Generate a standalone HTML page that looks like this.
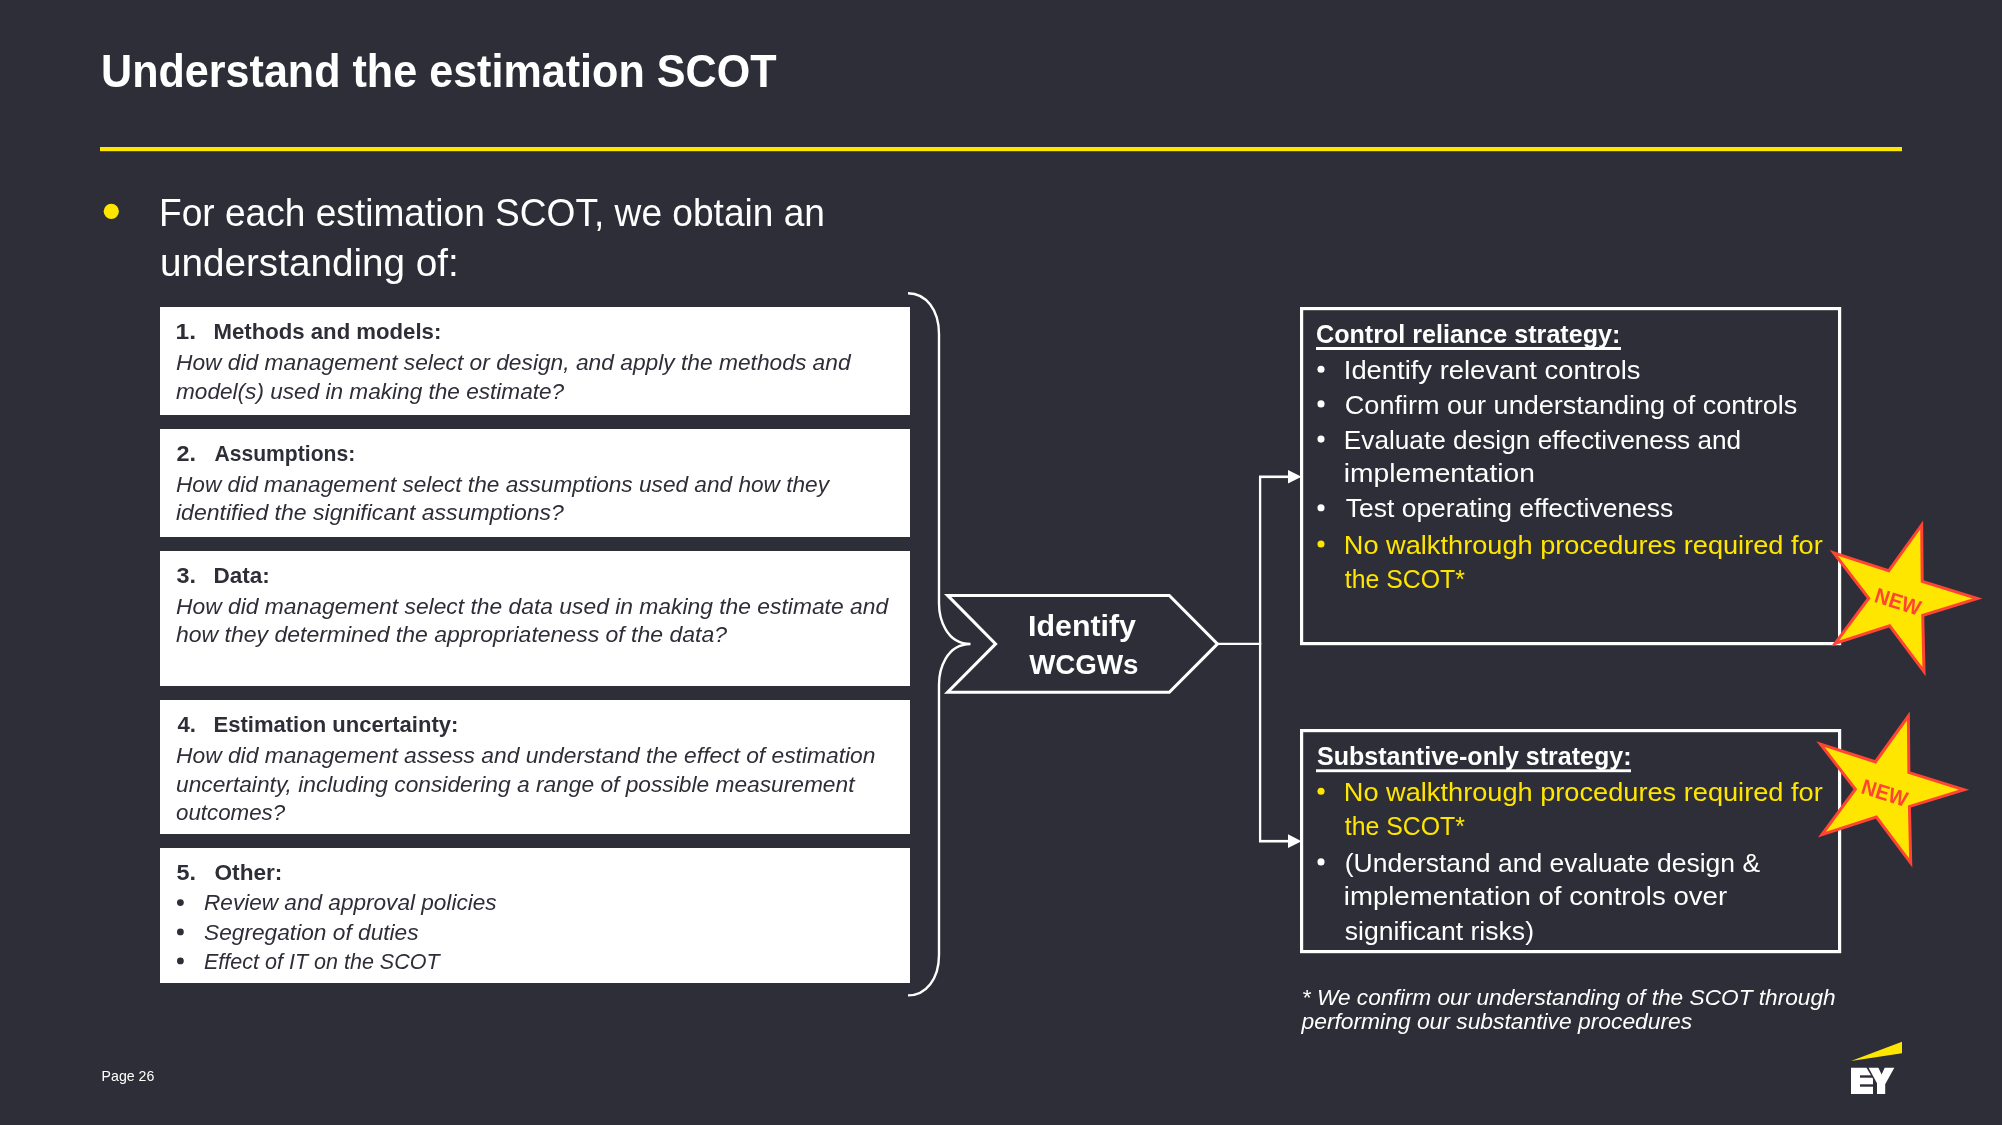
<!DOCTYPE html>
<html><head><meta charset="utf-8"><title>Understand the estimation SCOT</title>
<style>
html,body{margin:0;padding:0;background:#2E2E38;width:2002px;height:1125px;overflow:hidden}
svg{display:block;position:absolute;left:0;top:0;will-change:transform}
text{font-family:"Liberation Sans",sans-serif;white-space:pre}
</style></head><body>
<svg width="2002" height="1125" viewBox="0 0 2002 1125">
<rect x="0" y="0" width="2002" height="1125" fill="#2E2E38"/>
<rect x="100" y="147" width="1802" height="4.2" fill="#FFE600"/>
<circle cx="111.3" cy="211.3" r="7.6" fill="#FFE600"/>
<rect x="160" y="307" width="750" height="108" fill="#FFFFFF"/>
<rect x="160" y="429" width="750" height="108" fill="#FFFFFF"/>
<rect x="160" y="551" width="750" height="135" fill="#FFFFFF"/>
<rect x="160" y="700" width="750" height="134" fill="#FFFFFF"/>
<rect x="160" y="848" width="750" height="135" fill="#FFFFFF"/>
<circle cx="180.4" cy="902.60" r="3.4" fill="#2E2E38"/>
<circle cx="180.4" cy="931.90" r="3.4" fill="#2E2E38"/>
<circle cx="180.4" cy="960.90" r="3.4" fill="#2E2E38"/>
<path d="M908,293.2 C926,293.2 939,310 939,334 L939,603.5 C939,617.7 945.8,644 970.5,644 C945.8,644 939,670.3 939,684.5 L939,955 C939,979 926,995.4 908,995.4" fill="none" stroke="#FFFFFF" stroke-width="2.4"/>
<polygon points="947.6,595.4 1169.3,595.4 1217.5,643.9 1169.3,692.3 947.6,692.3 995.6,643.9" fill="none" stroke="#FFFFFF" stroke-width="3" stroke-linejoin="miter"/>
<line x1="1217" y1="643.9" x2="1261.2" y2="643.9" stroke="#FFFFFF" stroke-width="2.4"/>
<line x1="1260.1" y1="476.8" x2="1260.1" y2="841.2" stroke="#FFFFFF" stroke-width="2.3"/>
<line x1="1259" y1="476.8" x2="1290" y2="476.8" stroke="#FFFFFF" stroke-width="2.6"/>
<line x1="1259" y1="841.2" x2="1290" y2="841.2" stroke="#FFFFFF" stroke-width="2.6"/>
<polygon points="1288,470 1301.5,476.8 1288,483.4" fill="#FFFFFF"/>
<polygon points="1288,834.2 1301.5,841.2 1288,848" fill="#FFFFFF"/>
<rect x="1301.6" y="308.6" width="538" height="335" fill="none" stroke="#FFFFFF" stroke-width="3.2"/>
<rect x="1301.6" y="730.6" width="538" height="221" fill="none" stroke="#FFFFFF" stroke-width="3.2"/>
<rect x="1316" y="347" width="305" height="3" fill="#FFFFFF"/>
<rect x="1316" y="769.3" width="315" height="2.9" fill="#FFFFFF"/>
<circle cx="1321" cy="369.20" r="3.55" fill="#FFFFFF"/>
<circle cx="1321" cy="403.90" r="3.55" fill="#FFFFFF"/>
<circle cx="1321" cy="439.10" r="3.55" fill="#FFFFFF"/>
<circle cx="1321" cy="507.80" r="3.55" fill="#FFFFFF"/>
<circle cx="1321" cy="544.00" r="3.55" fill="#FFE600"/>
<circle cx="1321" cy="791.30" r="3.55" fill="#FFE600"/>
<circle cx="1321" cy="861.90" r="3.55" fill="#FFFFFF"/>
<text id="title" x="101.00" y="86.50" font-size="46.43" font-weight="bold" font-style="normal" fill="#FFFFFF" textLength="675.50" lengthAdjust="spacingAndGlyphs">Understand the estimation SCOT</text>
<text id="b1" x="159.00" y="226.00" font-size="38.57" font-weight="normal" font-style="normal" fill="#FFFFFF" textLength="666.00" lengthAdjust="spacingAndGlyphs">For each estimation SCOT, we obtain an</text>
<text id="b2" x="160.00" y="276.00" font-size="38.57" font-weight="normal" font-style="normal" fill="#FFFFFF" textLength="298.75" lengthAdjust="spacingAndGlyphs">understanding of:</text>
<text id="hn1" x="175.50" y="339.00" font-size="22.50" font-weight="bold" font-style="normal" fill="#2E2E38" textLength="20.50" lengthAdjust="spacingAndGlyphs">1.</text>
<text id="ht1" x="213.50" y="339.00" font-size="22.50" font-weight="bold" font-style="normal" fill="#2E2E38" textLength="227.80" lengthAdjust="spacingAndGlyphs">Methods and models:</text>
<text id="hn2" x="176.50" y="461.00" font-size="22.50" font-weight="bold" font-style="normal" fill="#2E2E38" textLength="19.50" lengthAdjust="spacingAndGlyphs">2.</text>
<text id="ht2" x="214.50" y="461.00" font-size="22.50" font-weight="bold" font-style="normal" fill="#2E2E38" textLength="140.70" lengthAdjust="spacingAndGlyphs">Assumptions:</text>
<text id="hn3" x="176.50" y="582.60" font-size="22.50" font-weight="bold" font-style="normal" fill="#2E2E38" textLength="19.50" lengthAdjust="spacingAndGlyphs">3.</text>
<text id="ht3" x="213.50" y="582.60" font-size="22.50" font-weight="bold" font-style="normal" fill="#2E2E38" textLength="56.30" lengthAdjust="spacingAndGlyphs">Data:</text>
<text id="hn4" x="177.50" y="731.50" font-size="22.50" font-weight="bold" font-style="normal" fill="#2E2E38" textLength="18.50" lengthAdjust="spacingAndGlyphs">4.</text>
<text id="ht4" x="213.50" y="731.50" font-size="22.50" font-weight="bold" font-style="normal" fill="#2E2E38" textLength="244.90" lengthAdjust="spacingAndGlyphs">Estimation uncertainty:</text>
<text id="hn5" x="176.50" y="879.70" font-size="22.50" font-weight="bold" font-style="normal" fill="#2E2E38" textLength="19.50" lengthAdjust="spacingAndGlyphs">5.</text>
<text id="ht5" x="214.50" y="879.70" font-size="22.50" font-weight="bold" font-style="normal" fill="#2E2E38" textLength="67.90" lengthAdjust="spacingAndGlyphs">Other:</text>
<text id="i1a" x="176.00" y="370.00" font-size="22.29" font-weight="normal" font-style="italic" fill="#2E2E38" textLength="674.60" lengthAdjust="spacingAndGlyphs">How did management select or design, and apply the methods and</text>
<text id="i1b" x="176.00" y="398.75" font-size="22.29" font-weight="normal" font-style="italic" fill="#2E2E38" textLength="388.20" lengthAdjust="spacingAndGlyphs">model(s) used in making the estimate?</text>
<text id="i2a" x="176.00" y="491.50" font-size="22.29" font-weight="normal" font-style="italic" fill="#2E2E38" textLength="653.00" lengthAdjust="spacingAndGlyphs">How did management select the assumptions used and how they</text>
<text id="i2b" x="176.00" y="520.10" font-size="22.29" font-weight="normal" font-style="italic" fill="#2E2E38" textLength="387.90" lengthAdjust="spacingAndGlyphs">identified the significant assumptions?</text>
<text id="i3a" x="176.00" y="613.60" font-size="22.29" font-weight="normal" font-style="italic" fill="#2E2E38" textLength="712.10" lengthAdjust="spacingAndGlyphs">How did management select the data used in making the estimate and</text>
<text id="i3b" x="176.00" y="642.40" font-size="22.29" font-weight="normal" font-style="italic" fill="#2E2E38" textLength="551.00" lengthAdjust="spacingAndGlyphs">how they determined the appropriateness of the data?</text>
<text id="i4a" x="176.00" y="762.70" font-size="22.29" font-weight="normal" font-style="italic" fill="#2E2E38" textLength="699.40" lengthAdjust="spacingAndGlyphs">How did management assess and understand the effect of estimation</text>
<text id="i4b" x="176.00" y="791.50" font-size="22.29" font-weight="normal" font-style="italic" fill="#2E2E38" textLength="678.50" lengthAdjust="spacingAndGlyphs">uncertainty, including considering a range of possible measurement</text>
<text id="i4c" x="176.00" y="820.30" font-size="22.29" font-weight="normal" font-style="italic" fill="#2E2E38" textLength="109.10" lengthAdjust="spacingAndGlyphs">outcomes?</text>
<text id="i5a" x="204.00" y="910.40" font-size="22.29" font-weight="normal" font-style="italic" fill="#2E2E38" textLength="292.60" lengthAdjust="spacingAndGlyphs">Review and approval policies</text>
<text id="i5b" x="204.00" y="939.70" font-size="22.29" font-weight="normal" font-style="italic" fill="#2E2E38" textLength="214.60" lengthAdjust="spacingAndGlyphs">Segregation of duties</text>
<text id="i5c" x="204.00" y="968.70" font-size="22.29" font-weight="normal" font-style="italic" fill="#2E2E38" textLength="235.60" lengthAdjust="spacingAndGlyphs">Effect of IT on the SCOT</text>
<text id="rh1" x="1316.00" y="343.00" font-size="26.29" font-weight="bold" font-style="normal" fill="#FFFFFF" textLength="304.40" lengthAdjust="spacingAndGlyphs">Control reliance strategy:</text>
<text id="r1" x="1343.80" y="378.80" font-size="25.71" font-weight="normal" font-style="normal" fill="#FFFFFF" textLength="296.60" lengthAdjust="spacingAndGlyphs">Identify relevant controls</text>
<text id="r2" x="1344.80" y="413.50" font-size="25.71" font-weight="normal" font-style="normal" fill="#FFFFFF" textLength="452.60" lengthAdjust="spacingAndGlyphs">Confirm our understanding of controls</text>
<text id="r3" x="1343.80" y="448.70" font-size="25.71" font-weight="normal" font-style="normal" fill="#FFFFFF" textLength="397.40" lengthAdjust="spacingAndGlyphs">Evaluate design effectiveness and</text>
<text id="r4" x="1343.80" y="482.20" font-size="25.71" font-weight="normal" font-style="normal" fill="#FFFFFF" textLength="191.20" lengthAdjust="spacingAndGlyphs">implementation</text>
<text id="r5" x="1345.80" y="517.40" font-size="25.71" font-weight="normal" font-style="normal" fill="#FFFFFF" textLength="327.50" lengthAdjust="spacingAndGlyphs">Test operating effectiveness</text>
<text id="r6" x="1343.80" y="553.60" font-size="25.71" font-weight="normal" font-style="normal" fill="#FFE600" textLength="478.90" lengthAdjust="spacingAndGlyphs">No walkthrough procedures required for</text>
<text id="r7" x="1344.80" y="588.20" font-size="25.71" font-weight="normal" font-style="normal" fill="#FFE600" textLength="120.10" lengthAdjust="spacingAndGlyphs">the SCOT*</text>
<text id="rh2" x="1317.00" y="764.50" font-size="26.29" font-weight="bold" font-style="normal" fill="#FFFFFF" textLength="314.60" lengthAdjust="spacingAndGlyphs">Substantive-only strategy:</text>
<text id="s1" x="1343.80" y="800.90" font-size="25.71" font-weight="normal" font-style="normal" fill="#FFE600" textLength="478.90" lengthAdjust="spacingAndGlyphs">No walkthrough procedures required for</text>
<text id="s2" x="1344.80" y="835.30" font-size="25.71" font-weight="normal" font-style="normal" fill="#FFE600" textLength="120.10" lengthAdjust="spacingAndGlyphs">the SCOT*</text>
<text id="s3" x="1344.80" y="871.50" font-size="25.71" font-weight="normal" font-style="normal" fill="#FFFFFF" textLength="415.30" lengthAdjust="spacingAndGlyphs">(Understand and evaluate design &amp;</text>
<text id="s4" x="1343.80" y="904.80" font-size="25.71" font-weight="normal" font-style="normal" fill="#FFFFFF" textLength="383.30" lengthAdjust="spacingAndGlyphs">implementation of controls over</text>
<text id="s5" x="1344.80" y="939.70" font-size="25.71" font-weight="normal" font-style="normal" fill="#FFFFFF" textLength="189.20" lengthAdjust="spacingAndGlyphs">significant risks)</text>
<text id="f1" x="1301.80" y="1004.70" font-size="21.86" font-weight="normal" font-style="italic" fill="#FFFFFF" textLength="533.90" lengthAdjust="spacingAndGlyphs">* We confirm our understanding of the SCOT through</text>
<text id="f2" x="1301.50" y="1029.30" font-size="21.86" font-weight="normal" font-style="italic" fill="#FFFFFF" textLength="390.70" lengthAdjust="spacingAndGlyphs">performing our substantive procedures</text>
<text id="pg" x="101.60" y="1080.80" font-size="14.57" font-weight="normal" font-style="normal" fill="#FFFFFF" textLength="52.80" lengthAdjust="spacingAndGlyphs">Page 26</text>
<text id="wc1" x="1028.00" y="636.00" font-size="30.00" font-weight="bold" font-style="normal" fill="#FFFFFF" textLength="108.00" lengthAdjust="spacingAndGlyphs">Identify</text>
<text id="wc2" x="1029.20" y="674.30" font-size="27.86" font-weight="bold" font-style="normal" fill="#FFFFFF" textLength="109.30" lengthAdjust="spacingAndGlyphs">WCGWs</text>
<polygon points="1923.12,520.39 1923.68,580.19 1982.44,598.44 1924.26,616.41 1925.62,676.21 1889.10,627.52 1831.19,646.23 1866.79,598.16 1829.64,549.93 1888.16,568.91" fill="#FF4433"/>
<polygon points="1920.20,529.57 1920.70,582.41 1972.30,598.43 1921.21,614.22 1922.41,666.93 1890.22,624.01 1839.16,640.50 1870.55,598.13 1837.92,555.77 1889.32,572.44" fill="#FFE600"/>
<text x="0" y="0" font-size="21.3" font-weight="bold" fill="#FF4433" text-anchor="middle" textLength="47" lengthAdjust="spacingAndGlyphs" transform="translate(1898.00,601.60) rotate(17.6) translate(0,7.45)">NEW</text>
<polygon points="1909.82,711.59 1910.38,771.39 1969.14,789.64 1910.96,807.61 1912.32,867.41 1875.80,818.72 1817.89,837.43 1853.49,789.36 1816.34,741.13 1874.86,760.11" fill="#FF4433"/>
<polygon points="1906.90,720.77 1907.40,773.61 1959.00,789.63 1907.91,805.42 1909.11,858.13 1876.92,815.21 1825.86,831.70 1857.25,789.33 1824.62,746.97 1876.02,763.64" fill="#FFE600"/>
<text x="0" y="0" font-size="21.3" font-weight="bold" fill="#FF4433" text-anchor="middle" textLength="47" lengthAdjust="spacingAndGlyphs" transform="translate(1884.70,792.80) rotate(17.6) translate(0,7.45)">NEW</text>
<polygon points="1851,1061 1902,1041.7 1902,1053.2" fill="#FFE600"/>
<polygon points="1851,1067.8 1866.5,1067.8 1873,1078.8 1873,1094 1851,1094" fill="#FFFFFF"/>
<rect x="1860" y="1075.3" width="16" height="2.4" fill="#2E2E38"/>
<rect x="1860" y="1084.3" width="16" height="2.4" fill="#2E2E38"/>
<polygon points="1868.6,1067.8 1878.4,1067.8 1881.6,1074.6 1884.7,1067.8 1894.3,1067.8 1885.2,1084.2 1885.2,1094 1877,1094 1877,1083.2" fill="#FFFFFF"/>
</svg>
</body></html>
